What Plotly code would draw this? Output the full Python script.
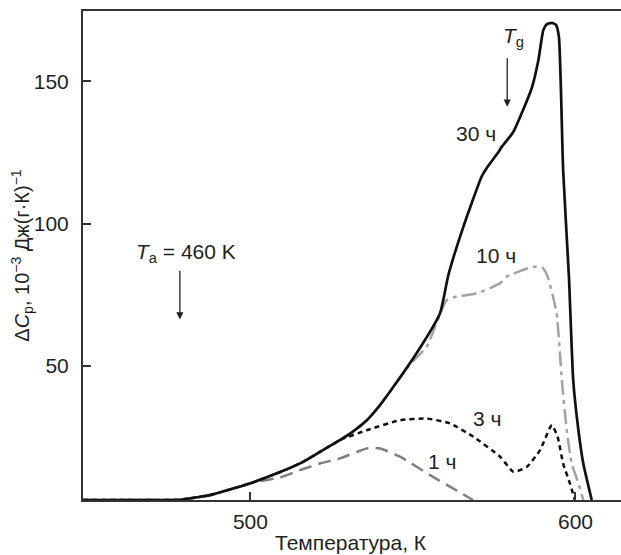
import plotly.graph_objects as go

# Excess heat capacity vs temperature after annealing at T_a = 460 K
# for 1, 3, 10 and 30 hours.
t_30h = [448.5, 475.2, 478.3, 487.5, 499.8, 509.1, 516.2, 521.4, 527.5, 531.5,
         535.8, 539.5, 542.9, 551.1, 558.3, 560.9, 565.5, 571.1, 572.7, 576.2,
         577.3, 580.9, 586.5, 588.6, 590.1, 591.2, 592.7, 594.0, 594.9, 596.2,
         598.0, 599.3, 600.9, 602.4, 605.0]
cp_30h = [3.0, 3.0, 3.1, 4.7, 8.8, 12.8, 16.4, 19.9, 24.0, 27.0,
          31.0, 35.8, 41.0, 54.5, 68.5, 82.0, 98.9, 116.5, 119.6, 125.0,
          127.0, 132.3, 147.5, 157.5, 168.0, 170.1, 170.5, 169.8, 165.6, 118.8,
          81.0, 45.1, 27.5, 15.8, 3.0]

t_10h = [448.5, 475.2, 478.3, 487.5, 499.8, 509.1, 516.2, 521.4, 527.5, 531.5,
         535.8, 539.5, 542.9, 549.1, 554.2, 560.4, 563.4, 569.6, 576.8, 578.8,
         587.0, 590.0, 591.6, 594.2, 595.8, 597.3, 598.8, 600.9, 602.4]
cp_10h = [3.0, 3.0, 3.1, 4.7, 8.8, 12.8, 16.4, 19.9, 24.0, 27.0,
          31.0, 35.8, 41.0, 50.6, 56.8, 73.2, 74.4, 75.5, 79.1, 81.4,
          84.9, 84.4, 80.9, 68.5, 45.1, 27.6, 16.0, 8.8, 3.0]

t_3h = [448.5, 475.2, 478.3, 487.5, 499.8, 509.1, 516.2, 521.4, 527.5, 535.8,
        546.0, 554.2, 561.4, 568.6, 576.8, 580.9, 585.0, 589.1, 592.7, 594.5,
        596.2, 598.3, 599.8]
cp_3h = [3.0, 3.0, 3.1, 4.7, 8.8, 12.8, 16.4, 19.9, 24.0, 27.5,
         31.0, 31.6, 29.9, 25.2, 18.2, 12.9, 14.6, 20.5, 29.3, 25.2,
         15.8, 8.8, 3.0]

t_1h = [448.5, 475.2, 478.3, 487.5, 499.8, 502.0, 509.1, 515.2, 521.4, 527.5,
        535.8, 539.9, 546.0, 556.2, 568.5]
cp_1h = [3.0, 3.0, 3.1, 4.7, 8.8, 9.4, 10.9, 13.5, 15.8, 17.6,
         21.1, 21.1, 18.2, 11.1, 3.0]

x_ticks = [500, 600]
y_ticks = [50, 100, 150]

FONT = "Liberation Sans, Arial, sans-serif"
INK = "#231f20"

fig = go.Figure()
fig.add_trace(go.Scatter(x=t_1h, y=cp_1h, mode="lines",
                         line=dict(color="#808080", width=2.5, dash="13px,7px",
                                   shape="spline", smoothing=0.6)))
fig.add_trace(go.Scatter(x=t_3h, y=cp_3h, mode="lines",
                         line=dict(color="#111111", width=2.5, dash="5px,4px",
                                   shape="spline", smoothing=0.5)))
fig.add_trace(go.Scatter(x=t_10h, y=cp_10h, mode="lines",
                         line=dict(color="#a3a3a3", width=2.5, dash="15px,5px,4px,5px",
                                   shape="spline", smoothing=0.5)))
fig.add_trace(go.Scatter(x=t_30h, y=cp_30h, mode="lines",
                         line=dict(color="#111111", width=2.7,
                                   shape="spline", smoothing=0.5)))

def label(x, y, text, **kw):
    fig.add_annotation(x=x, y=y, text=text, showarrow=False,
                       font=dict(family=FONT, size=21, color=INK), **kw)

def arrow(x, y_from, y_to):
    fig.add_annotation(x=x, y=y_to, ax=x, ay=y_from, axref="x", ayref="y",
                       text="", showarrow=True, arrowhead=2, arrowsize=1.1,
                       arrowwidth=1.3, arrowcolor=INK, standoff=0)

label(480.2, 89.6, "<i>T</i><sub>a</sub> = 460 K")
arrow(478.3, 84.0, 66.4)
label(577.2, 165.7, "<i>T</i><sub>g</sub>", xanchor="left")
arrow(579.0, 158.6, 141.1)
label(569.4, 131.7, "30 ч")
label(575.5, 89.0, "10 ч")
label(572.9, 31.6, "3 ч")
label(558.8, 16.4, "1 ч")

# axis titles
fig.add_annotation(xref="paper", yref="paper", x=-0.113, y=0.50,
                   text="Δ<i>C</i><sub>p</sub>, 10<sup>−3</sup> Дж(г·К)<sup>−1</sup>",
                   textangle=-90, showarrow=False, xanchor="center", yanchor="middle",
                   font=dict(family=FONT, size=20, color=INK))
fig.add_annotation(xref="paper", yref="paper", x=0.498, y=-0.087,
                   text="Температура, К", showarrow=False,
                   xanchor="center", yanchor="middle",
                   font=dict(family=FONT, size=21, color=INK))

axis_common = dict(showgrid=False, zeroline=False, showline=True, linewidth=2,
                   linecolor="#333333", ticks="inside", ticklen=8, tickwidth=1.5,
                   tickcolor="#333333", tickfont=dict(family=FONT, size=21, color=INK))

fig.update_xaxes(range=[448.5, 614.0], tickvals=x_ticks, mirror=True,
                 ticklabelstandoff=2, **axis_common)
fig.update_yaxes(range=[3, 174.7], tickvals=y_ticks, mirror=False,
                 ticklabelstandoff=8, **axis_common)

fig.update_layout(width=621, height=555, showlegend=False,
                  margin=dict(l=83, r=0, t=11, b=55),
                  paper_bgcolor="white", plot_bgcolor="white")

fig.write_html("out.html")
